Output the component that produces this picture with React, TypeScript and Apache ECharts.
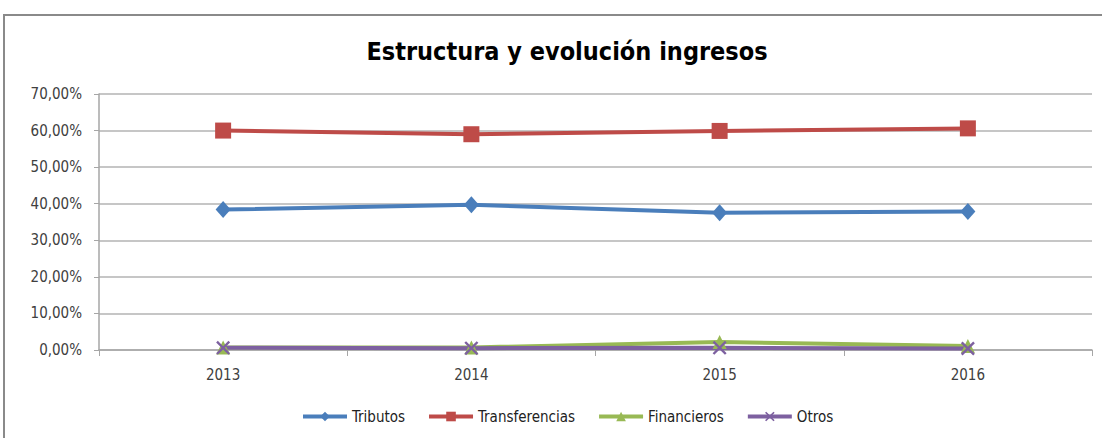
import React, { useEffect, useRef } from "react";
import * as echarts from "echarts";

const years = ["2013", "2014", "2015", "2016"];
const tributos = [38.4, 39.7, 37.5, 37.9];
const transferencias = [60.0, 59.0, 59.9, 60.6];
const financieros = [0.7, 0.7, 2.2, 1.1];
const otros = [0.6, 0.5, 0.6, 0.4];
const seriesNames = ["Tributos", "Transferencias", "Financieros", "Otros"];

const FONT = "'Liberation Sans Narrow', 'DejaVu Sans Condensed', 'Roboto', sans-serif";
const crossPath =
  "path://M0,1.2 L1.2,0 L5,3.8 L8.8,0 L10,1.2 L6.2,5 L10,8.8 L8.8,10 L5,6.2 L1.2,10 L0,8.8 L3.8,5 Z";

export default function App() {
  const ref = useRef<HTMLDivElement>(null);
  useEffect(() => {
    document.body.style.margin = "0";
    const chart = echarts.init(ref.current!, null, { renderer: "svg" });
    const mk = (name: string, data: number[], color: string, symbol: string, size: number | number[]) => ({
      name,
      type: "line",
      data,
      symbol,
      symbolSize: size,
      showAllSymbol: true,
      lineStyle: { color, width: 4 },
      itemStyle: { color },
      z: 3,
    });
    chart.setOption({
      animation: false,
      backgroundColor: "#ffffff",
      title: {
        text: "Estructura y evolución ingresos",
        left: 562,
        textAlign: "center",
        top: 34,
        textStyle: { fontFamily: FONT, fontSize: 25, fontWeight: "bold", color: "#000" },
      },
      graphic: [
        {
          type: "rect",
          shape: { x: 4, y: 15, width: 1200, height: 500 },
          style: { fill: "none", stroke: "#8a8a8a", lineWidth: 2 },
          silent: true,
        },
      ],
      legend: {
        data: seriesNames,
        bottom: 9,
        left: 296,
        itemWidth: 44,
        itemHeight: 12,
        itemGap: 22,
        lineStyle: { width: 4 },
        textStyle: { fontFamily: FONT, fontSize: 15, color: "#222" },
      },
      grid: { left: 99, right: 10, top: 94, bottom: 88 },
      xAxis: {
        type: "category",
        data: years,
        boundaryGap: true,
        axisLine: { lineStyle: { color: "#a6a6a6", width: 1.5 } },
        axisTick: { show: true, length: 6, lineStyle: { color: "#a6a6a6" } },
        axisLabel: { fontFamily: FONT, fontSize: 15, color: "#404040", margin: 17 },
      },
      yAxis: {
        type: "value",
        min: 0,
        max: 70,
        interval: 10,
        axisLine: { show: true, lineStyle: { color: "#a6a6a6", width: 1.5 } },
        axisTick: { show: true, length: 5, lineStyle: { color: "#a6a6a6" } },
        splitLine: { lineStyle: { color: "#b3b3b3", width: 1.5 } },
        axisLabel: {
          fontFamily: FONT,
          fontSize: 15,
          color: "#404040",
          margin: 17,
          formatter: (v: number) => v.toFixed(2).replace(".", ",") + "%",
        },
      },
      series: [
        mk("Tributos", tributos, "#4a7ebb", "diamond", [15, 17]),
        mk("Transferencias", transferencias, "#be4b48", "rect", 16),
        mk("Financieros", financieros, "#98b954", "triangle", 14),
        mk("Otros", otros, "#7d60a0", crossPath, 14),
      ],
    });
    return () => chart.dispose();
  }, []);
  return <div ref={ref} style={{ width: 1102, height: 438 }} />;
}
